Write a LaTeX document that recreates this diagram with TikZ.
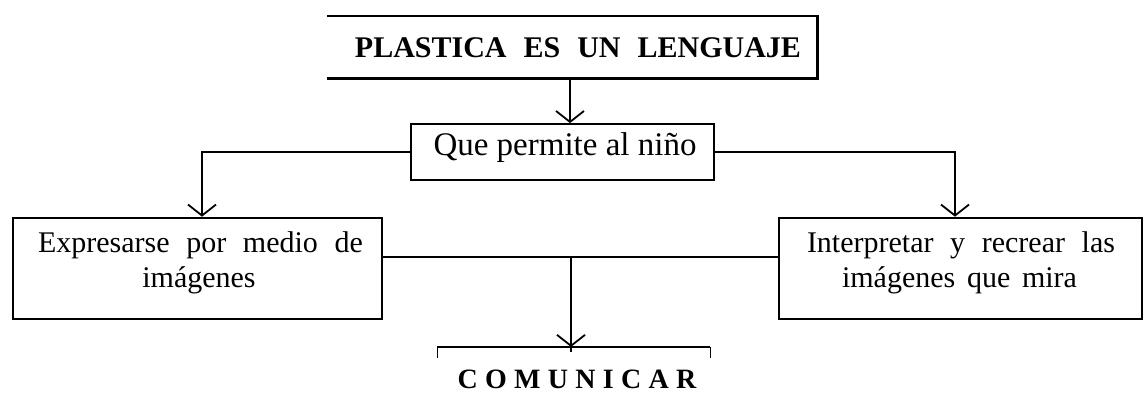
\documentclass[tikz,border=0pt]{standalone}
\usepackage{fontspec}
\setmainfont{Liberation Serif}
\newfontfamily\spacedserif[LetterSpace=26]{Liberation Serif}
\usetikzlibrary{arrows.meta,calc}
\begin{document}
\begin{tikzpicture}[x=1pt,y=-1pt,
  boxframe/.style={draw,line width=2.6pt,inner sep=0pt},
  conn/.style={line width=1.8pt},
  arr/.style={conn,-{Straight Barb[length=11pt,width=28pt,line width=1.8pt]}},
  boxtext/.style={anchor=base,inner sep=0pt,font=\fontsize{30pt}{35pt}\selectfont}]
\useasboundingbox (0,0) rectangle (1144,410);

% top box (no left edge)
\node[draw=none,inner sep=0pt,minimum width=490pt,minimum height=62pt] (top) at (572,47) {};
\draw[line width=2.6pt] (top.north west) -- (top.north east) -- (top.south east) -- (top.south west);
\node[anchor=base,inner sep=0pt,font=\fontsize{30pt}{36pt}\selectfont\bfseries] (toptext) at (578,57)
  {PLASTICA\hspace{17pt}ES\hspace{17pt}UN\hspace{17pt}LENGUAJE};

% middle box
\node[boxframe,line width=1.8pt,minimum width=303pt,minimum height=56pt] (mid) at (562.5,152) {};
\node[anchor=base,inner sep=0pt,font=\fontsize{33pt}{38pt}\selectfont] (midtext) at (565,155) {Que permite al niño};

% left box
\node[boxframe,minimum width=369pt,minimum height=101pt] (L) at (197.5,268.5) {};
\node[boxtext] (Lt1) at (200.5,252) {\makebox[325pt][s]{Expresarse por medio de}};
\node[boxtext] (Lt2) at (199,287) {imágenes};

% right box
\node[boxframe,minimum width=363pt,minimum height=101pt] (R) at (960.5,268.5) {};
\node[boxtext] (Rt1) at (961,252) {\makebox[308pt][s]{Interpretar y recrear las}};
\node[boxtext] (Rt2) at (959.5,287) {\makebox[235pt][s]{imágenes que mira}};

% COMUNICAR
\coordinate (bl) at (437,347);
\coordinate (br) at (710,347);
\node[anchor=base,inner sep=0pt,font=\fontsize{28pt}{32pt}\spacedserif\bfseries] (comm) at (577,388) {COMUNICAR};
\draw[conn] (bl) -- (br);
\draw[line width=1pt] (bl) -- ++(0,11);
\draw[line width=1pt] (br) -- ++(0,11);

% helper coordinates
\coordinate (a1) at (570,0);
\coordinate (lx) at (202,0);
\coordinate (rx) at (955,0);
\coordinate (hy) at (0,257);
\coordinate (cx) at (571,0);

% connectors
\draw[arr] (a1 |- top.south) -- (a1 |- mid.north);
\draw[arr] (mid.west) -| (lx |- L.north);
\draw[arr] (mid.east) -| (rx |- R.north);
\draw[conn] (L.east |- hy) -- (R.west |- hy);
\draw[arr] (cx |- hy) -- (cx |- bl);
\draw[conn] (cx |- bl) -- ++(0,5);
\end{tikzpicture}
\end{document}
